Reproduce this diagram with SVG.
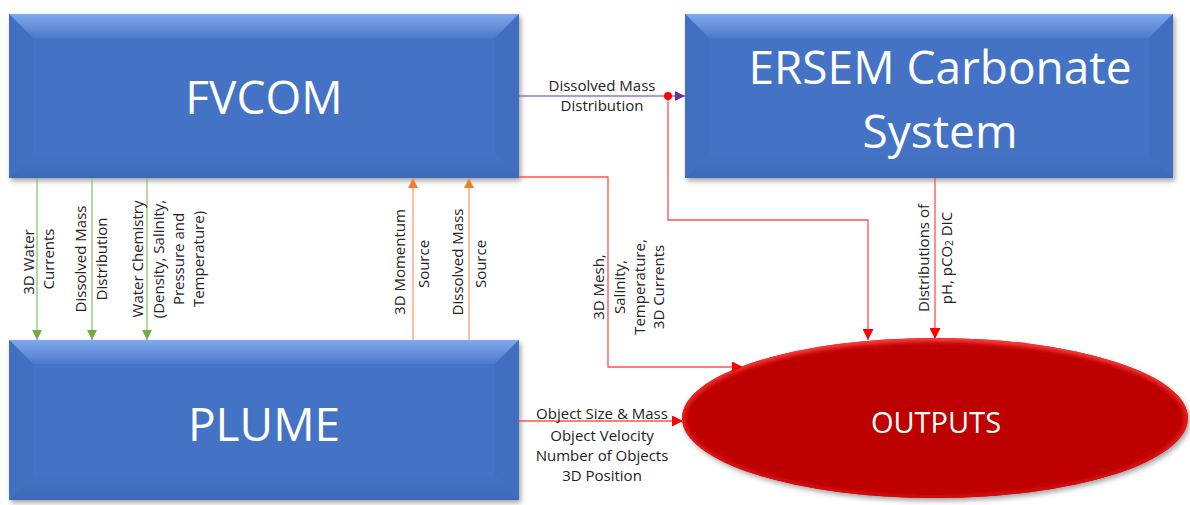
<svg xmlns="http://www.w3.org/2000/svg" width="1190" height="505" viewBox="0 0 1190 505">
<defs>
<linearGradient id="gTop" x1="0" y1="0" x2="0" y2="1"><stop offset="0" stop-color="#80a8ee"/><stop offset="1" stop-color="#4c7aca"/></linearGradient>
<linearGradient id="gBot" x1="0" y1="0" x2="0" y2="1"><stop offset="0" stop-color="#4472c4"/><stop offset="1" stop-color="#3e69b8"/></linearGradient>
<linearGradient id="gRim" x1="0" y1="0" x2="0" y2="1"><stop offset="0" stop-color="#ff4040"/><stop offset="0.6" stop-color="#e81818"/><stop offset="1" stop-color="#d00808"/></linearGradient>
<clipPath id="ellClip"><ellipse cx="935" cy="418" rx="253" ry="80"/></clipPath>
<filter id="blur" x="-5%" y="-10%" width="110%" height="120%"><feGaussianBlur stdDeviation="2"/></filter>
<filter id="sh" x="-5%" y="-5%" width="112%" height="120%"><feDropShadow dx="2" dy="3" stdDeviation="2.5" flood-color="#000" flood-opacity="0.35"/></filter>
<marker id="aG" viewBox="0 0 10 10" refX="10" refY="5" markerWidth="10" markerHeight="10" markerUnits="userSpaceOnUse" orient="auto"><path d="M0,0 L10,5 L0,10 z" fill="#70ad47"/></marker>
<marker id="aO" viewBox="0 0 10 10" refX="10" refY="5" markerWidth="10" markerHeight="10" markerUnits="userSpaceOnUse" orient="auto"><path d="M0,0 L10,5 L0,10 z" fill="#ed7d31"/></marker>
<marker id="aR" viewBox="0 0 10 10" refX="10" refY="5" markerWidth="11" markerHeight="11" markerUnits="userSpaceOnUse" orient="auto"><path d="M0,0 L10,5 L0,10 z" fill="#ff0000"/></marker>
<marker id="aP" viewBox="0 0 10 10" refX="10" refY="5" markerWidth="10" markerHeight="10" markerUnits="userSpaceOnUse" orient="auto"><path d="M0,0 L10,5 L0,10 z" fill="#7030a0"/></marker>
</defs>
<style>
.big{font-family:"Open Sans","Liberation Sans",sans-serif;fill:#fff;text-anchor:middle;dominant-baseline:central}
.lbl{font-family:"Open Sans","Liberation Sans",sans-serif;font-size:15px;fill:#222;text-anchor:middle;dominant-baseline:central}
.body{fill:#4472c4}
.top{fill:url(#gTop)}
.lft{fill:#4170c0}
.rgt{fill:#416ebf}
.bot{fill:url(#gBot)}
.g{stroke:#8cc56a;stroke-width:1.3;fill:none}
.o{stroke:#f4a070;stroke-width:1.3;fill:none}
.r{stroke:#ff5050;stroke-width:1.3;fill:none}
.p{stroke:#a070c8;stroke-width:1.3;fill:none}
</style>

<g id="fvcom">
<g filter="url(#sh)">
<rect x="9" y="14" width="510" height="164" class="body"/>
</g>
<polygon points="9,14 519,14 495,38 33,38" class="top"/>
<polygon points="9,14 33,38 33,154 9,178" class="lft"/>
<polygon points="519,14 495,38 495,154 519,178" class="rgt"/>
<polygon points="9,178 33,154 495,154 519,178" class="bot"/>
<rect x="33" y="38" width="462" height="116" class="body"/>
<text x="264" y="96" class="big" font-size="46">FVCOM</text>
</g>

<g id="ersem">
<g filter="url(#sh)">
<rect x="685" y="14" width="488" height="164" class="body"/>
</g>
<polygon points="685,14 1173,14 1149,38 709,38" class="top"/>
<polygon points="685,14 709,38 709,154 685,178" class="lft"/>
<polygon points="1173,14 1149,38 1149,154 1173,178" class="rgt"/>
<polygon points="685,178 709,154 1149,154 1173,178" class="bot"/>
<rect x="709" y="38" width="440" height="116" class="body"/>
<text x="940" y="66" class="big" font-size="46">ERSEM Carbonate</text>
<text x="940" y="130" class="big" font-size="46">System</text>
</g>

<g id="plume">
<g filter="url(#sh)">
<rect x="9" y="340" width="510" height="160" class="body"/>
</g>
<polygon points="9,340 519,340 495,364 33,364" class="top"/>
<polygon points="9,340 33,364 33,476 9,500" class="lft"/>
<polygon points="519,340 495,364 495,476 519,500" class="rgt"/>
<polygon points="9,500 33,476 495,476 519,500" class="bot"/>
<rect x="33" y="364" width="462" height="112" class="body"/>
<text x="264" y="423" class="big" font-size="46">PLUME</text>
</g>

<g id="outputs">
<ellipse cx="935" cy="418" rx="253" ry="80" fill="#bd0303" filter="url(#sh)"/>
<g clip-path="url(#ellClip)">
<ellipse cx="935" cy="418" rx="253" ry="80" fill="none" stroke="url(#gRim)" stroke-width="7" filter="url(#blur)"/>
</g>
<text x="936" y="421" class="big" font-size="29">OUTPUTS</text>
</g>

<g id="connectors">
<line x1="37" y1="178" x2="37" y2="340" class="g" marker-end="url(#aG)"/>
<line x1="92" y1="178" x2="92" y2="340" class="g" marker-end="url(#aG)"/>
<line x1="147" y1="178" x2="147" y2="340" class="g" marker-end="url(#aG)"/>
<line x1="413" y1="340" x2="413" y2="178" class="o" marker-end="url(#aO)"/>
<line x1="469" y1="340" x2="469" y2="178" class="o" marker-end="url(#aO)"/>
<line x1="519" y1="96" x2="685" y2="96" class="p" marker-end="url(#aP)"/>
<polyline points="668,96 668,220 868,220 868,340" class="r" marker-end="url(#aR)"/>
<circle cx="668" cy="96" r="4" fill="#ff0000"/>
<polyline points="519,177 608,177 608,367 743,367" class="r" marker-end="url(#aR)"/>
<line x1="935" y1="178" x2="935" y2="339" class="r" marker-end="url(#aR)"/>
<line x1="519" y1="421" x2="683" y2="421" class="r" marker-end="url(#aR)"/>
</g>

<g id="labels">
<text class="lbl" transform="translate(28,262) rotate(-90)">3D Water</text>
<text class="lbl" transform="translate(48,259) rotate(-90)">Currents</text>
<text class="lbl" transform="translate(80,259) rotate(-90)">Dissolved Mass</text>
<text class="lbl" transform="translate(101,259) rotate(-90)">Distribution</text>
<text class="lbl" transform="translate(137,259) rotate(-90)">Water Chemistry</text>
<text class="lbl" transform="translate(158,259) rotate(-90)">(Density, Salinity,</text>
<text class="lbl" transform="translate(178,259) rotate(-90)">Pressure and</text>
<text class="lbl" transform="translate(198,259) rotate(-90)">Temperature)</text>
<text class="lbl" transform="translate(399,262) rotate(-90)">3D Momentum</text>
<text class="lbl" transform="translate(423,264) rotate(-90)">Source</text>
<text class="lbl" transform="translate(457,262) rotate(-90)">Dissolved Mass</text>
<text class="lbl" transform="translate(480,264) rotate(-90)">Source</text>
<text class="lbl" x="602" y="85">Dissolved Mass</text>
<text class="lbl" x="602" y="105">Distribution</text>
<text class="lbl" transform="translate(598,287) rotate(-90)">3D Mesh,</text>
<text class="lbl" transform="translate(619,287) rotate(-90)">Salinity,</text>
<text class="lbl" transform="translate(639,287) rotate(-90)">Temperature,</text>
<text class="lbl" transform="translate(658,287) rotate(-90)">3D Currents</text>
<text class="lbl" transform="translate(923,258) rotate(-90)">Distributions of</text>
<text class="lbl" transform="translate(946,258) rotate(-90)">pH, pCO<tspan font-size="10" dy="3">2</tspan><tspan dy="-3"> DIC</tspan></text>
<text class="lbl" x="602" y="413">Object Size &amp; Mass</text>
<text class="lbl" x="602" y="435">Object Velocity</text>
<text class="lbl" x="602" y="455">Number of Objects</text>
<text class="lbl" x="602" y="475">3D Position</text>
</g>
</svg>
